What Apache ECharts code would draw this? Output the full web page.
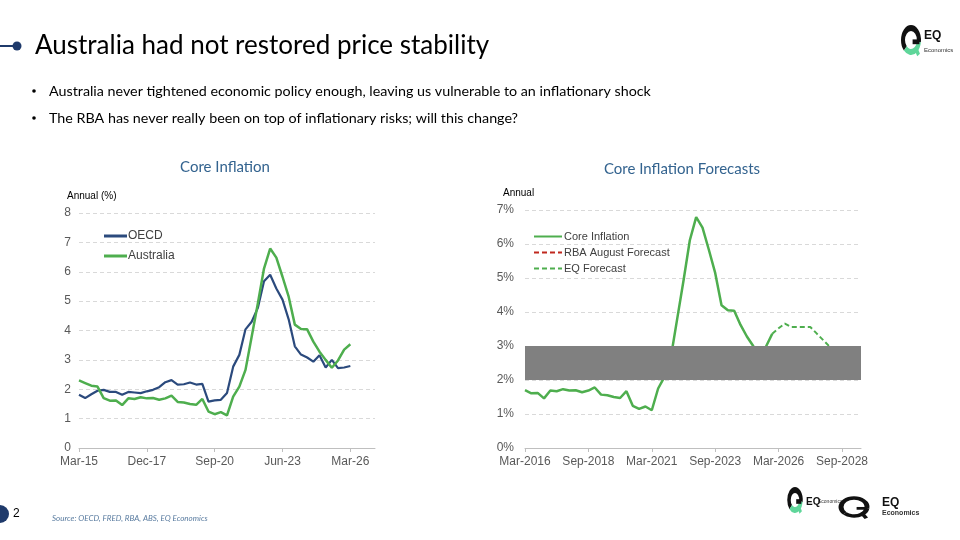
<!DOCTYPE html>
<html>
<head>
<meta charset="utf-8">
<script src="https://cdn.jsdelivr.net/npm/echarts@6/dist/echarts.min.js"></script>
<style>
  html, body { margin: 0; padding: 0; background: #fff; }
  #main { width: 960px; height: 540px; }
</style>
</head>
<body>
<div id="main"></div>
<script>
// 季度标签
function quarters (y0, y1, short) {
  const m = ['Mar', 'Jun', 'Sep', 'Dec']
  const out = []
  for (let y = y0; y <= y1; y++) {
    m.forEach(q => out.push(q + '-' + (short ? String(y).slice(2) : y)))
  }
  return out
}

// 左图: Core Inflation (Mar-15 起)
const leftCats = quarters(2015, 2027, true).slice(0, 49) // Mar-15 ... Mar-27
const oecd = [1.81, 1.70, 1.83, 1.95, 1.98, 1.91, 1.91, 1.81, 1.91, 1.89, 1.87, 1.93, 1.98, 2.07, 2.24, 2.31,
  2.16, 2.17, 2.23, 2.16, 2.18, 1.58, 1.62, 1.64, 1.87, 2.77, 3.17, 4.04, 4.30, 4.77, 5.68, 5.90,
  5.43, 5.05, 4.38, 3.46, 3.18, 3.08, 2.94, 3.16, 2.74, 3.00, 2.72, 2.74, 2.79]
const australia = [2.30, 2.21, 2.12, 2.09, 1.70, 1.61, 1.62, 1.46, 1.69, 1.67, 1.73, 1.69, 1.70, 1.64, 1.69, 1.78,
  1.57, 1.55, 1.50, 1.47, 1.67, 1.24, 1.15, 1.22, 1.11, 1.75, 2.09, 2.66, 3.79, 4.92, 6.11, 6.79,
  6.48, 5.83, 5.15, 4.20, 4.05, 4.04, 3.62, 3.28, 3.00, 2.73, 2.98, 3.35, 3.53]
const leftTicks = [0, 1, 2, 3, 4, 5, 6, 7, 8]

// 右图: Core Inflation Forecasts (Mar-2016 起)
const rightCats = quarters(2016, 2029, false).slice(0, 54) // Mar-2016 ... Jun-2029
const coreInflation = [1.70, 1.61, 1.62, 1.46, 1.69, 1.67, 1.73, 1.69, 1.70, 1.64, 1.69, 1.78, 1.57, 1.55, 1.50, 1.47,
  1.67, 1.24, 1.15, 1.22, 1.11, 1.75, 2.09, 2.66, 3.79, 4.92, 6.11, 6.79, 6.48, 5.83, 5.15, 4.20,
  4.05, 4.04, 3.62, 3.28, 3.00, 2.73, 2.98, 3.36]
const rbaStart = 'Sep-2025'
const rbaForecast = [2.90, 2.80, 2.70, 2.70, 2.60, 2.60, 2.60, 2.60, 2.50, 2.50]
const eqStart = 'Dec-2025'
const eqForecast = [3.36, 3.52, 3.66, 3.56, 3.56, 3.56, 3.56, 3.37, 3.18, 2.99, 2.85]
const targetBand = [2, 3]
const rightTicks = [0, 1, 2, 3, 4, 5, 6, 7]

// 预测序列前面补 null
function pad (cats, start, vals) {
  const i = cats.indexOf(start)
  return cats.map((c, k) => (k >= i && k - i < vals.length) ? vals[k - i] : null)
}

const GREEN = '#4EAE4E'
const NAVY = '#2B4A7D'
const AXIS_TXT = '#595959'
const TITLE_BLUE = '#33638F'

// 简单的 EQ logo
function logo (x, y, rx, ry, topColor, botColor, w) {
  return {
    type: 'group',
    x: x,
    y: y,
    scaleX: 1,
    scaleY: ry / rx,
    children: [
      { type: 'arc', shape: { cx: 0, cy: 0, r: rx, startAngle: Math.PI * 0.75, endAngle: Math.PI * 2.05 }, style: { stroke: topColor, lineWidth: w, fill: null } },
      { type: 'arc', shape: { cx: 0, cy: 0, r: rx, startAngle: Math.PI * 0.05, endAngle: Math.PI * 0.75 }, style: { stroke: botColor, lineWidth: w, fill: null } },
      { type: 'line', shape: { x1: rx * 0.2, y1: rx * 0.15, x2: rx * 1.05, y2: rx * 0.15 }, style: { stroke: topColor, lineWidth: w * 0.8 } },
      { type: 'line', shape: { x1: rx * 0.55, y1: rx * 0.6, x2: rx * 0.95, y2: rx * 1.25 }, style: { stroke: botColor, lineWidth: w * 0.8 } }
    ]
  }
}

const chart = echarts.init(document.getElementById('main'))

const optionData = {
  animation: false,
  backgroundColor: '#fff',
  textStyle: { fontFamily: 'Liberation Sans' },
  grid: [
    { left: 79, right: 585, top: 213, bottom: 92 },
    { left: 525, right: 99, top: 210, bottom: 92 }
  ],
  legend: [
    {
      data: ['OECD', 'Australia'],
      orient: 'vertical',
      left: 104,
      top: 230,
      padding: 0,
      itemWidth: 23,
      itemHeight: 3,
      itemGap: 8,
      icon: 'rect',
      textStyle: { fontSize: 12, color: '#404040', padding: [0, 0, 0, -4] }
    },
    {
      data: ['Core Inflation', 'RBA August Forecast', 'EQ Forecast'],
      orient: 'vertical',
      left: 533,
      top: 231,
      padding: 0,
      itemWidth: 28,
      itemHeight: 3,
      itemGap: 5,
      itemStyle: { opacity: 0 },
      textStyle: { fontSize: 11, color: '#404040', padding: [0, 0, 0, -3] }
    }
  ],
  xAxis: [
    {
      gridIndex: 0,
      type: 'category',
      boundaryGap: false,
      data: leftCats,
      axisLine: { lineStyle: { color: '#BFBFBF' } },
      axisTick: { interval: 10, length: 4, lineStyle: { color: '#BFBFBF' } },
      axisLabel: { interval: 10, color: AXIS_TXT, fontSize: 12, margin: 8 }
    },
    {
      gridIndex: 1,
      type: 'category',
      boundaryGap: false,
      data: rightCats,
      axisLine: { lineStyle: { color: '#BFBFBF' } },
      axisTick: { interval: 9, length: 4, lineStyle: { color: '#BFBFBF' } },
      axisLabel: { interval: 9, color: AXIS_TXT, fontSize: 12, margin: 8 }
    }
  ],
  yAxis: [
    {
      gridIndex: 0,
      type: 'value',
      min: leftTicks[0],
      max: leftTicks[leftTicks.length - 1],
      interval: 1,
      axisLine: { show: false },
      axisTick: { show: false },
      axisLabel: { color: AXIS_TXT, fontSize: 12, margin: 8 },
      splitLine: { lineStyle: { color: '#D9D9D9', type: [4, 3] } }
    },
    {
      gridIndex: 1,
      type: 'value',
      min: rightTicks[0],
      max: rightTicks[rightTicks.length - 1],
      interval: 1,
      axisLine: { show: false },
      axisTick: { show: false },
      axisLabel: { color: AXIS_TXT, fontSize: 12, margin: 11, formatter: '{value}%' },
      splitLine: { lineStyle: { color: '#D9D9D9', type: [4, 3] } }
    }
  ],
  series: [
    {
      name: 'OECD',
      type: 'line',
      xAxisIndex: 0,
      yAxisIndex: 0,
      data: oecd,
      symbol: 'none',
      color: NAVY,
      lineStyle: { width: 2.2, color: NAVY }
    },
    {
      name: 'Australia',
      type: 'line',
      xAxisIndex: 0,
      yAxisIndex: 0,
      data: australia,
      symbol: 'none',
      color: GREEN,
      lineStyle: { width: 2.5, color: GREEN }
    },
    {
      name: 'Core Inflation',
      type: 'line',
      xAxisIndex: 1,
      yAxisIndex: 1,
      data: coreInflation,
      symbol: 'none',
      color: GREEN,
      lineStyle: { width: 2.5, color: GREEN }
    },
    {
      name: 'RBA August Forecast',
      type: 'line',
      xAxisIndex: 1,
      yAxisIndex: 1,
      data: pad(rightCats, rbaStart, rbaForecast),
      symbol: 'none',
      color: '#C0281E',
      lineStyle: { width: 2, color: '#C0281E', type: [5, 3] }
    },
    {
      name: 'EQ Forecast',
      type: 'line',
      xAxisIndex: 1,
      yAxisIndex: 1,
      data: pad(rightCats, eqStart, eqForecast),
      symbol: 'none',
      color: GREEN,
      lineStyle: { width: 2, color: GREEN, type: [5, 3] }
    },
    {
      // RBA 目标区间 2-3%，盖在线的上面
      name: 'band',
      type: 'line',
      xAxisIndex: 1,
      yAxisIndex: 1,
      data: [],
      z: 10,
      markArea: {
        z: 10,
        silent: true,
        itemStyle: { color: '#808080', opacity: 1 },
        data: [[{ yAxis: targetBand[0] }, { yAxis: targetBand[1] }]]
      }
    }
  ],
  graphic: [
    // 标题
    { type: 'line', shape: { x1: 0, y1: 46, x2: 15, y2: 46 }, style: { stroke: '#1F3A6B', lineWidth: 2 } },
    { type: 'circle', shape: { cx: 17, cy: 46, r: 4.5 }, style: { fill: '#1F3A6B' } },
    { type: 'text', x: 35, y: 46, style: { text: 'Australia had not restored price stability', font: '26px Lato', fill: '#000', textVerticalAlign: 'middle' } },
    { type: 'circle', shape: { cx: 34, cy: 91, r: 1.8 }, style: { fill: '#000' } },
    { type: 'text', x: 49, y: 91, style: { text: 'Australia never tightened economic policy enough, leaving us vulnerable to an inflationary shock', font: '14.3px Lato', fill: '#000', textVerticalAlign: 'middle' } },
    { type: 'circle', shape: { cx: 34, cy: 118, r: 1.8 }, style: { fill: '#000' } },
    { type: 'text', x: 49, y: 118, style: { text: 'The RBA has never really been on top of inflationary risks; will this change?', font: '14.3px Lato', fill: '#000', textVerticalAlign: 'middle' } },
    // 图标题
    { type: 'text', x: 225, y: 167, style: { text: 'Core Inflation', font: '15px Lato', fill: TITLE_BLUE, textAlign: 'center', textVerticalAlign: 'middle' } },
    { type: 'text', x: 682, y: 169, style: { text: 'Core Inflation Forecasts', font: '15px Lato', fill: TITLE_BLUE, textAlign: 'center', textVerticalAlign: 'middle' } },
    { type: 'text', x: 67, y: 196, style: { text: 'Annual (%)', font: '10px "Liberation Sans"', fill: '#000', textVerticalAlign: 'middle' } },
    { type: 'text', x: 503, y: 193, style: { text: 'Annual', font: '10px "Liberation Sans"', fill: '#000', textVerticalAlign: 'middle' } },
    // 页脚
    { type: 'circle', shape: { cx: 0, cy: 514, r: 9 }, style: { fill: '#1F3A6B' } },
    { type: 'text', x: 13, y: 514, style: { text: '2', font: '12px "Liberation Sans"', fill: '#000', textVerticalAlign: 'middle' } },
    { type: 'text', x: 52, y: 518, style: { text: 'Source: OECD, FRED, RBA, ABS, EQ Economics', font: 'italic 8px Lato', fill: '#5A7CA0', textVerticalAlign: 'middle' } },
    // logos
    logo(911, 40, 8, 12, '#111', '#5FD69A', 4),
    { type: 'text', x: 924, y: 36, style: { text: 'EQ', font: 'bold 12px "Liberation Sans"', fill: '#111', textVerticalAlign: 'middle' } },
    { type: 'text', x: 924, y: 50, style: { text: 'Economics', font: '6px "Liberation Sans"', fill: '#333', textVerticalAlign: 'middle' } },
    logo(795, 500, 6, 10, '#111', '#5FD69A', 3.5),
    { type: 'text', x: 806, y: 502, style: { text: 'EQ', font: 'bold 10px "Liberation Sans"', fill: '#111', textVerticalAlign: 'middle' } },
    { type: 'text', x: 818, y: 502, style: { text: 'Economics', font: '5px "Liberation Sans"', fill: '#333', textVerticalAlign: 'middle' } },
    logo(854, 507, 13, 9, '#111', '#111', 5),
    { type: 'text', x: 882, y: 503, style: { text: 'EQ', font: 'bold 12px "Liberation Sans"', fill: '#111', textVerticalAlign: 'middle' } },
    { type: 'text', x: 882, y: 513, style: { text: 'Economics', font: 'bold 7px "Liberation Sans"', fill: '#333', textVerticalAlign: 'middle' } }
  ]
}

chart.setOption(optionData)
</script>
</body>
</html>
